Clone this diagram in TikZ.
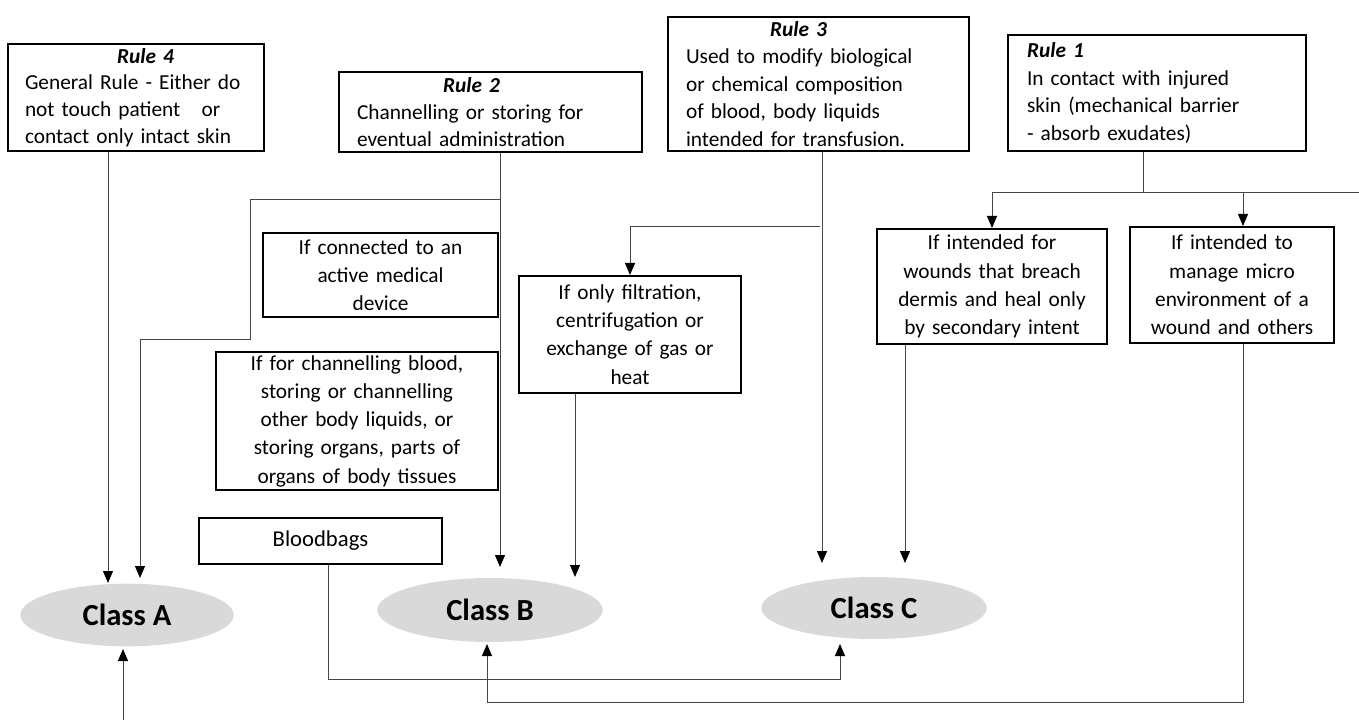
\documentclass[tikz,border=0pt]{standalone}
\usepackage{fontspec}
\setmainfont{Carlito}
\usetikzlibrary{arrows.meta}
\usetikzlibrary{shapes.geometric}

\tikzset{
  rulebox/.style={draw, line width=1.5pt, align=left, inner ysep=0pt, font=\fontsize{16pt}{20pt}\selectfont},
  ifbox/.style={draw, line width=1.5pt, align=center, inner ysep=0pt, font=\fontsize{16pt}{21.2pt}\selectfont},
  classnode/.style={ellipse, fill={rgb, 255:red, 217; green, 217; blue, 217 }, inner sep=0pt, font=\fontsize{23pt}{26pt}\selectfont\bfseries},
  conn/.style={draw={rgb, 255:red, 70; green, 70; blue, 70 }, line width=0.75pt},
  arr/.style={conn, -{Triangle[width=7.5pt,length=9pt,color=black]}}
}

\begin{document}
\begin{tikzpicture}[x=0.75pt,y=0.75pt,yscale=-1,xscale=1]
\useasboundingbox (0,0) rectangle (1359,720);

% Rule boxes
\node [rulebox, inner xsep=12.75pt, text width=166.5pt, minimum height=80.25pt] (r4) at (136,97.5)
  {\hspace*{69pt}\textbf{\textit{Rule 4}}\\General Rule - Either do\\not touch patient\ \ \ or\\contact only intact skin};
\node [rulebox, inner xsep=13.5pt, text width=200.25pt, minimum height=60pt] (r2) at (490.5,112)
  {\hspace*{64.5pt}\textbf{\textit{Rule 2}}\\Channelling or storing for\\eventual administration};
\node [rulebox, inner xsep=13.5pt, text width=198.75pt, minimum height=100.5pt, font=\fontsize{16pt}{20.6pt}\selectfont] (r3) at (818.5,84)
  {\hspace*{63pt}\textbf{\textit{Rule 3}}\\\makebox[170pt][s]{Used to modify biological}\\\makebox[170pt][s]{or chemical composition}\\\makebox[170pt][s]{of blood, body liquids}\\intended for transfusion.};
\node [rulebox, inner xsep=14.25pt, text width=195pt, minimum height=87pt, font=\fontsize{16pt}{20.6pt}\selectfont] (r1) at (1157,93)
  {\textbf{\textit{Rule 1}}\\In contact with injured\\skin (mechanical barrier\\- absorb exudates)};

% Condition boxes
\node [ifbox, text width=170pt, minimum height=63pt] (conn) at (380.5,275)
  {If connected to an\\active medical\\device};
\node [ifbox, text width=205pt, minimum height=103.5pt] (chan) at (357,421)
  {If for channelling blood,\\storing or channelling\\other body liquids, or\\storing organs, parts of\\organs of body tissues};
\node [ifbox, text width=176pt, minimum height=34.5pt, font=\fontsize{17pt}{21pt}\selectfont] (bags) at (320.5,541)
  {Bloodbags};
\node [ifbox, text width=160pt, minimum height=87.75pt] (filt) at (630,334.5)
  {If only filtration,\\centrifugation or\\exchange of gas or\\heat};
\node [ifbox, text width=166pt, minimum height=86.25pt] (wound) at (992,286.5)
  {If intended for\\wounds that breach\\dermis and heal only\\by secondary intent};
\node [ifbox, text width=146.5pt, minimum height=87pt] (micro) at (1232,285)
  {If intended to\\manage micro\\environment of a\\wound and others};

%Shape: Ellipse
\node [classnode, minimum width=160pt, minimum height=47pt] (cA) at (127,615) {Class A};
\node [classnode, minimum width=169pt, minimum height=48pt] (cB) at (490,610) {Class B};
\node [classnode, minimum width=169pt, minimum height=46.5pt] (cC) at (874,608) {Class C};

% Rule 4
\coordinate (tA1) at (108,583);
\draw [arr] (r4.south -| tA1) -- (tA1);

% Rule 2
\coordinate (tB1) at (500,567);
\draw [arr] (r2.south -| tB1) -- (tB1);
\coordinate (k1) at (500,200);
\coordinate (k2) at (250,339);
\coordinate (tA2) at (140,578);
\draw [arr] (k1) -| (k2) -| (tA2);

% Rule 3
\coordinate (tC1) at (822,563);
\draw [arr] (r3.south -| tC1) -- (tC1);
\coordinate (k3) at (820,227);
\draw [arr] (k3) -| (filt.north);
\coordinate (tB2) at (575,577);
\draw [arr] (filt.south -| tB2) -- (tB2);

% Rule 1
\coordinate (k4) at (1143,193);
\coordinate (k5) at (1359,193);
\coordinate (k6) at (1243,193);
\draw [conn] (r1.south -| k4) -- (k4);
\draw [conn] (wound.north |- k4) -- (k5);
\draw [arr] (wound.north |- k4) -- (wound.north);
\draw [arr] (k6) -- (micro.north -| k6);
\coordinate (tC2) at (905,563);
\draw [arr] (wound.south -| tC2) -- (tC2);
\coordinate (k7) at (1243,702);
\coordinate (tB3) at (487,644);
\draw [arr] (micro.south -| k7) -- (k7) -| (tB3);

% Bloodbags
\coordinate (k8) at (328,679);
\coordinate (tC3) at (840,644);
\draw [arr] (bags.south -| k8) -- (k8) -| (tC3);

% from below
\coordinate (k9) at (123,720);
\coordinate (tA3) at (123,649);
\draw [arr] (k9) -- (tA3);

\end{tikzpicture}
\end{document}
